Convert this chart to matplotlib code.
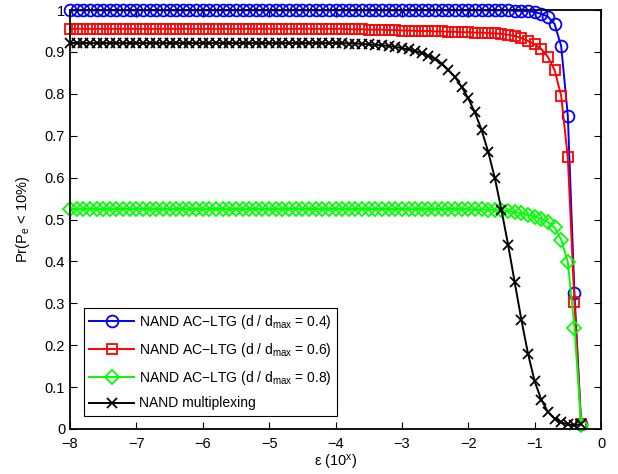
import numpy as np
import matplotlib
matplotlib.use('Agg')
import matplotlib.pyplot as plt

plt.rcParams['font.family'] = ['Liberation Sans', 'DejaVu Sans']
plt.rcParams['mathtext.fontset'] = 'custom'
plt.rcParams['mathtext.rm'] = 'Liberation Sans'
plt.rcParams['mathtext.it'] = 'Liberation Sans:italic'

# epsilon exponent grid, -8.0 ... -0.3 in steps of 0.1
eps = np.round(np.arange(-8.0, -0.25, 0.1), 1)

# d/dmax = 0.4
ltg_04 = [0.999] * 41 + [
    0.999, 0.999, 0.999, 0.999, 0.999, 0.999, 0.999, 0.999, 0.999, 0.999,
    0.999, 0.999, 0.999, 0.999, 0.999, 0.999, 0.999, 0.999, 0.999, 0.999,
    0.999, 0.999, 0.999, 0.999, 0.999, 0.999, 0.998, 0.998, 0.997, 0.995,
    0.991, 0.984, 0.967, 0.914, 0.748, 0.324, 0.013,
]
# d/dmax = 0.6
ltg_06 = [0.955] * 41 + [
    0.955, 0.954, 0.954, 0.954, 0.953, 0.953, 0.953, 0.952, 0.952, 0.951,
    0.951, 0.950, 0.950, 0.950, 0.949, 0.949, 0.948, 0.948, 0.947, 0.947,
    0.946, 0.946, 0.945, 0.944, 0.943, 0.941, 0.938, 0.933, 0.926, 0.918,
    0.907, 0.888, 0.857, 0.795, 0.648, 0.302, 0.012,
]
# d/dmax = 0.8
ltg_08 = [0.525] * 41 + [
    0.525, 0.525, 0.525, 0.525, 0.525, 0.525, 0.525, 0.525, 0.525, 0.525,
    0.525, 0.525, 0.525, 0.525, 0.525, 0.525, 0.525, 0.525, 0.525, 0.525,
    0.524, 0.524, 0.523, 0.523, 0.522, 0.520, 0.518, 0.515, 0.511, 0.507,
    0.501, 0.494, 0.481, 0.452, 0.398, 0.242, 0.010,
]
# von Neumann NAND multiplexing
mux = [0.921] * 41 + [
    0.921, 0.920, 0.920, 0.919, 0.918, 0.917, 0.916, 0.914, 0.912, 0.909,
    0.906, 0.902, 0.897, 0.891, 0.883, 0.872, 0.857, 0.840, 0.817, 0.789,
    0.756, 0.714, 0.662, 0.599, 0.523, 0.440, 0.350, 0.261, 0.180, 0.114,
    0.070, 0.041, 0.025, 0.016, 0.011, 0.009, 0.012,
]

labels = [
    r'NAND AC$-$LTG (d / d$_{\mathrm{max}}$ = 0.4)',
    r'NAND AC$-$LTG (d / d$_{\mathrm{max}}$ = 0.6)',
    r'NAND AC$-$LTG (d / d$_{\mathrm{max}}$ = 0.8)',
    'NAND multiplexing',
]
xticks = [-8, -7, -6, -5, -4, -3, -2, -1, 0]
yticks = [0, 0.1, 0.2, 0.3, 0.4, 0.5, 0.6, 0.7, 0.8, 0.9, 1]
yticklabels = ['0', '0.1', '0.2', '0.3', '0.4', '0.5', '0.6', '0.7', '0.8', '0.9', '1']

fig = plt.figure(figsize=(6.18, 4.74), dpi=100)
ax = fig.add_axes([70 / 618, 1 - 429 / 474, 531 / 618, 419 / 474])

style = dict(lw=1.4, mew=1.3, mfc='none', clip_on=False)
ax.plot(eps, ltg_04, color='#0000ff', marker='o', ms=8.5, label=labels[0], **style)
ax.plot(eps, ltg_06, color='#ff0000', marker='s', ms=6.5, label=labels[1], **style)
ax.plot(eps, ltg_08, color='#00ff00', marker='D', ms=7, label=labels[2], **style)
ax.plot(eps, mux, color='black', marker='x', ms=6.5, label=labels[3], **style)

ax.set_xlim(-8, 0)
ax.set_ylim(0, 1)
ax.set_xticks(xticks)
ax.set_yticks(yticks)
ax.set_yticklabels(yticklabels)
ax.tick_params(direction='in', top=True, right=True, length=5, width=0.8, labelsize=10.5)
ax.tick_params(axis='x', pad=6)
for s in ax.spines.values():
    s.set_linewidth(1.3)

ax.set_xlabel(r'ε (10$^{\mathrm{x}}$)', fontsize=10.5, labelpad=1)
ax.set_ylabel(r'Pr(P$_{\mathrm{e}}$ < 10%)', fontsize=10.5, labelpad=9)

leg = ax.legend(loc='lower left', bbox_to_anchor=(0.026, 0.031), borderaxespad=0,
                fontsize=10, fancybox=False, edgecolor='black', framealpha=1,
                handlelength=3.2, labelspacing=0.7, borderpad=0.4, handletextpad=0.35)
leg.get_frame().set_linewidth(0.8)

fig.savefig('out.png', dpi=100)
